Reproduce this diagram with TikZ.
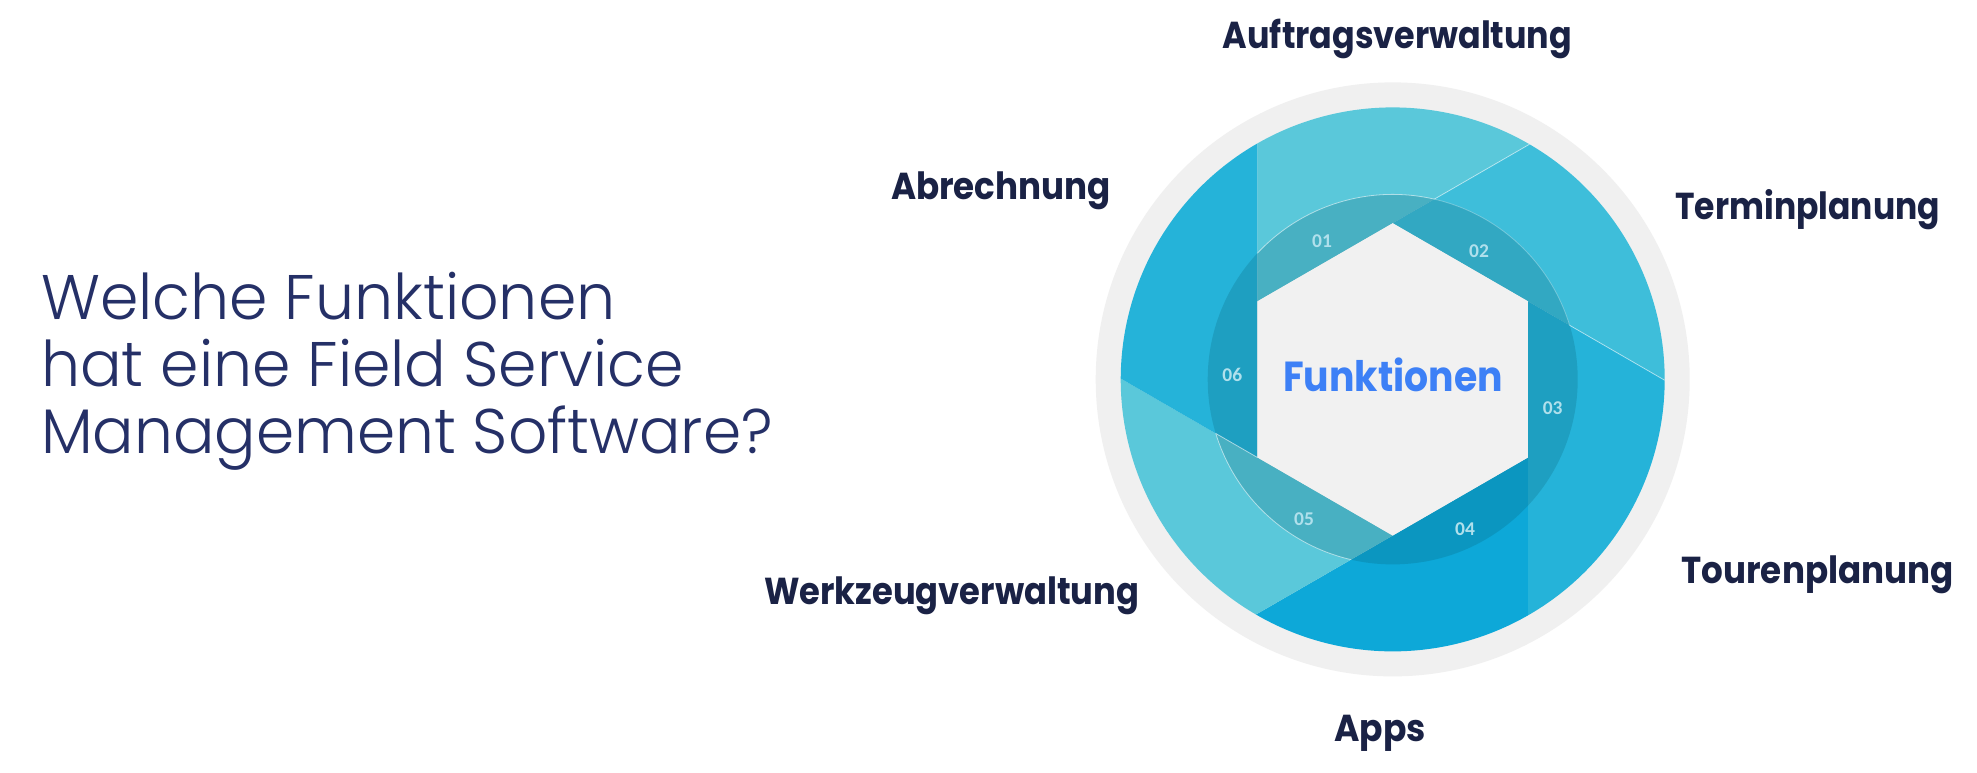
\documentclass[tikz,border=0pt]{standalone}
\usepackage{fontspec}
\newfontfamily\titfont{Poppins Light}
\newfontfamily\labfont{Poppins Bold}
\newfontfamily\numfont{Carlito}
\definecolor{bggray}{HTML}{F0F0F0}
\definecolor{hexgray}{HTML}{F1F1F1}
\definecolor{bA}{HTML}{5AC8DA}
\definecolor{bB}{HTML}{3EBEDA}
\definecolor{bC}{HTML}{25B3D9}
\definecolor{bD}{HTML}{0DA8D8}
\definecolor{ringshade}{RGB}{4,80,98}
\definecolor{numcol}{HTML}{B0E0EC}
\definecolor{labcol}{HTML}{1A2245}
\definecolor{titcol}{HTML}{253067}
\definecolor{funcol}{HTML}{3D80F6}
\newcommand{\nx}[2]{\scalebox{#1}[1]{#2}}
\tikzset{
  lab/.style={anchor=base, text=labcol, font=\labfont\fontsize{37.5}{40}\selectfont, inner sep=0pt},
  tit/.style={anchor=base west, text=titcol, font=\titfont\fontsize{63}{70}\selectfont, inner sep=0pt},
  num/.style={anchor=center, text=numcol, font=\numfont\bfseries\fontsize{19.5}{21}\selectfont, inner sep=0pt},
  edge/.style={draw=white, line width=0.8pt, draw opacity=0.55}
}
\begin{document}
\begin{tikzpicture}[x=1pt,y=1pt]
\useasboundingbox (0,0) rectangle (1977,773);
\fill[white] (0,0) rectangle (1977,773);
\coordinate (C) at (1392.7,393.6);
\begin{scope}[shift={(C)}]
  \fill[bggray] (0,0) circle (297);
  \foreach \a/\c in {150/bA,90/bB,30/bC,-30/bD,-90/bA,-150/bC} {
    \fill[\c] (\a:156.2) -- (\a-60:156.2) -- (\a-90.18:272)
      arc[start angle=\a-90.18, end angle=\a-30.18, radius=272] -- cycle;
  }
  \fill[ringshade, fill opacity=0.2] (0,0) circle (185);
  \fill[hexgray] (90:156.2) -- (30:156.2) -- (-30:156.2) -- (-90:156.2) -- (-150:156.2) -- (150:156.2) -- cycle;
  % thin light edges
  \draw[edge] (77:185) arc[start angle=77, end angle=137, radius=185];
  \draw[edge, draw opacity=0.3] (17:185) arc[start angle=17, end angle=77, radius=185];
  \draw[edge] (77:185) -- (59.82:272);
  \draw[edge] (17:185) -- (-0.18:272);
  \draw[edge] (-163:185) arc[start angle=-163, end angle=-103, radius=185];
  \draw[edge] (-150:156.2) -- (-163:185);
\end{scope}
% numbers
\node[num] (n1) at (1322,532) {01};
\node[num] (n2) at (1479,522) {02};
\node[num] (n3) at (1552.7,364.7) {03};
\node[num] (n4) at (1465,244) {04};
\node[num] (n5) at (1304,253.7) {05};
\node[num] (n6) at (1232.3,398) {06};
\node[anchor=base, text=funcol, font=\labfont\fontsize{42}{46}\selectfont, inner sep=0pt] (fk) at (1393,381.3) {\nx{0.9}{Funktionen}};
% labels
\node[lab] (l1) at (1397.5,724.7) {\nx{0.89}{Auftragsverwaltung}};
\node[lab] (l2) at (1807.7,553) {\nx{0.88}{Terminplanung}};
\node[lab] (l3) at (1817.5,189.7) {\nx{0.91}{Tourenplanung}};
\node[lab] (l4) at (1380,31.3) {\nx{0.92}{Apps}};
\node[lab] (l5) at (951.7,168.7) {\nx{0.9}{Werkzeugverwaltung}};
\node[lab] (l6) at (1000.9,573.7) {\nx{0.91}{Abrechnung}};
% title
\node[tit] (t1) at (41,453) {\nx{0.98}{Welche Funktionen}};
\node[tit] (t2) at (41,386.3) {\nx{0.98}{hat eine Field Service}};
\node[tit] (t3) at (41,319.7) {\nx{0.975}{Management Software?}};
\end{tikzpicture}
\end{document}
